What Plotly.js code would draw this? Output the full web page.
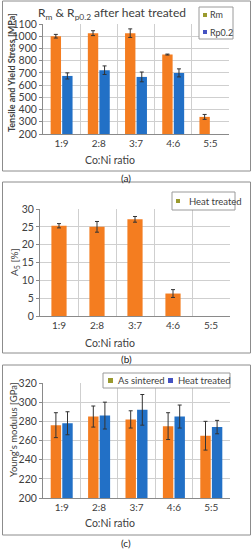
<!DOCTYPE html>
<html><head><meta charset="utf-8">
<script src="https://cdn.plot.ly/plotly-3.0.1.min.js"></script>
<style>html,body{margin:0;padding:0;background:#fff}#chart{width:252px;height:550px}</style>
</head><body><div id="chart"></div><script>
// ---- data ----
const ratios = ['1:9', '2:8', '3:7', '4:6', '5:5'];
const rmValues = [1000, 1025, 1025, 850, 340];
const rmErrors = [15, 20, 35, 4, 20];
const rp02Values = [675, 722, 667, 700, null];
const rp02Errors = [25, 35, 40, 33, null];
const a5Values = [25.3, 25.0, 27.1, 6.3, null];
const a5Errors = [0.6, 1.5, 0.8, 1.1, null];
const sinteredE = [276, 285, 282, 275, 265];
const sinteredErr = [13, 11, 9, 14, 15];
const heatE = [278, 286, 292, 285, 274];
const heatErr = [12, 14, 16, 12, 7];
const legendA = ['Rm', 'Rp0.2'];
const legendB = ['Heat treated'];
const legendC = ['As sintered', 'Heat treated'];

// ---- styling ----
const FONT = 'Liberation Sans Narrow, Lato, Arial, sans-serif';
const TXT = '#404040';
const ORANGE = '#F47D20';
const BLUE = '#2270C6';
const OLIVE = '#9A9A2E';
const SWBLUE = '#4452C2';
const GRID = '#cfcfcf';
const AXIS = '#8a8a8a';
const W = 252, H = 550;
const px = x => x / W, py = y => 1 - y / H;

function err(arr) { return {type: 'data', array: arr, visible: true, color: '#333', thickness: 1, width: 2}; }

const traces = [
  {type: 'bar', x: ratios, y: rmValues, error_y: err(rmErrors), marker: {color: ORANGE}, xaxis: 'x', yaxis: 'y', showlegend: false, name: legendA[0]},
  {type: 'bar', x: ratios, y: rp02Values, error_y: err(rp02Errors), marker: {color: BLUE}, xaxis: 'x', yaxis: 'y', showlegend: false, name: legendA[1]},
  {type: 'bar', x: ratios, y: a5Values, error_y: err(a5Errors), marker: {color: ORANGE}, width: 0.4, xaxis: 'x2', yaxis: 'y2', showlegend: false, name: legendB[0]},
  {type: 'bar', x: ratios, y: sinteredE, error_y: err(sinteredErr), marker: {color: ORANGE}, xaxis: 'x3', yaxis: 'y3', showlegend: false, name: legendC[0]},
  {type: 'bar', x: ratios, y: heatE, error_y: err(heatErr), marker: {color: BLUE}, xaxis: 'x3', yaxis: 'y3', showlegend: false, name: legendC[1]}
];

function xax(l, r, anchor) {
  return {domain: [px(l), px(r)], anchor: anchor, type: 'category', tickson: 'boundaries',
    showgrid: true, gridcolor: GRID, gridwidth: 1, showline: true, linecolor: AXIS, linewidth: 1,
    ticks: '', tickfont: {family: FONT, size: 10, color: TXT}, fixedrange: true};
}
function yax(top, bot, range, dtick, anchor) {
  return {domain: [py(bot), py(top)], anchor: anchor, range: range, dtick: dtick,
    showgrid: true, gridcolor: GRID, gridwidth: 1, showline: true, linecolor: AXIS, linewidth: 1,
    ticks: 'outside', ticklen: 3, tickcolor: AXIS, zeroline: false,
    tickfont: {family: FONT, size: 10.5, color: TXT}, fixedrange: true};
}

const frameLine = {color: '#8c8c8c', width: 1};
const shapes = [
  {type: 'rect', xref: 'paper', yref: 'paper', x0: px(2.5), x1: px(250.5), y0: py(171), y1: py(1), line: frameLine},
  {type: 'rect', xref: 'paper', yref: 'paper', x0: px(2.5), x1: px(250.5), y0: py(353), y1: py(182), line: frameLine},
  {type: 'rect', xref: 'paper', yref: 'paper', x0: px(2.5), x1: px(250.5), y0: py(535), y1: py(365), line: frameLine},
  // legend boxes
  {type: 'rect', xref: 'paper', yref: 'paper', x0: px(199), x1: px(233), y0: py(39), y1: py(7), line: {color: '#9a9a9a', width: 1}, fillcolor: '#fff'},
  {type: 'rect', xref: 'paper', yref: 'paper', x0: px(172), x1: px(235), y0: py(210), y1: py(192), line: {color: '#9a9a9a', width: 1}, fillcolor: '#fff'},
  {type: 'rect', xref: 'paper', yref: 'paper', x0: px(103), x1: px(230), y0: py(388), y1: py(373), line: {color: '#9a9a9a', width: 1}, fillcolor: '#fff'},
  // swatches
  {type: 'rect', xref: 'paper', yref: 'paper', x0: px(203), x1: px(207), y0: py(17), y1: py(13), line: {width: 0}, fillcolor: OLIVE},
  {type: 'rect', xref: 'paper', yref: 'paper', x0: px(203), x1: px(207), y0: py(34), y1: py(30), line: {width: 0}, fillcolor: SWBLUE},
  {type: 'rect', xref: 'paper', yref: 'paper', x0: px(176), x1: px(180), y0: py(203), y1: py(199), line: {width: 0}, fillcolor: OLIVE},
  {type: 'rect', xref: 'paper', yref: 'paper', x0: px(108), x1: px(113), y0: py(383), y1: py(378), line: {width: 0}, fillcolor: OLIVE},
  {type: 'rect', xref: 'paper', yref: 'paper', x0: px(168), x1: px(173), y0: py(383), y1: py(378), line: {width: 0}, fillcolor: SWBLUE}
];

function ann(text, x, y, opts) {
  return Object.assign({xref: 'paper', yref: 'paper', x: px(x), y: py(y), text: text, showarrow: false,
    xanchor: 'center', yanchor: 'middle', font: {family: FONT, size: 10, color: TXT}}, opts || {});
}
const annotations = [
  ann('R<sub>m</sub> &amp; R<sub>p0.2</sub> after heat treated', 112, 13, {font: {family: FONT, size: 12, color: TXT}}),
  ann('<b>Tensile and Yield Stress [MPa]</b>', 12, 73, {textangle: -90, font: {family: FONT, size: 9, color: TXT}}),
  ann('Co:Ni ratio', 110, 160, {font: {family: FONT, size: 10.5, color: TXT}}),
  ann('(a)', 126, 178, {font: {family: FONT, size: 10, color: '#222'}}),
  ann(legendA[0], 208, 15, {xanchor: 'left', font: {family: FONT, size: 9, color: TXT}}),
  ann(legendA[1], 208, 32, {xanchor: 'left', font: {family: FONT, size: 9, color: TXT}}),

  ann('A<sub>5</sub> [%]', 14, 262, {textangle: -90, font: {family: FONT, size: 10, color: TXT}}),
  ann('Co:Ni ratio', 110, 343, {font: {family: FONT, size: 10.5, color: TXT}}),
  ann('(b)', 126, 359, {font: {family: FONT, size: 10, color: '#222'}}),
  ann(legendB[0], 187, 201, {xanchor: 'left', font: {family: FONT, size: 9.5, color: TXT}}),

  ann('Young\'s modulus [GPa]', 13, 430, {textangle: -90, font: {family: FONT, size: 9.5, color: TXT}}),
  ann('Co:Ni ratio', 110, 523, {font: {family: FONT, size: 10.5, color: TXT}}),
  ann('(c)', 126, 543, {font: {family: FONT, size: 10, color: '#222'}}),
  ann(legendC[0], 116, 380.5, {xanchor: 'left', font: {family: FONT, size: 9.5, color: TXT}}),
  ann(legendC[1], 176, 380.5, {xanchor: 'left', font: {family: FONT, size: 9.5, color: TXT}})
];

const layout = {
  width: W, height: H, margin: {l: 0, r: 0, t: 0, b: 0},
  paper_bgcolor: '#fff', plot_bgcolor: '#fff',
  barmode: 'group', bargap: 0.38, bargroupgap: 0.1, showlegend: false,
  xaxis: xax(43, 229, 'y'), yaxis: yax(24, 134, [200, 1100], 100, 'x'),
  xaxis2: xax(40, 230, 'y2'), yaxis2: yax(209, 316, [0, 30], 5, 'x2'),
  xaxis3: xax(43, 230, 'y3'), yaxis3: yax(383, 498, [200, 320], 20, 'x3'),
  shapes: shapes, annotations: annotations
};

Plotly.newPlot('chart', traces, layout, {displayModeBar: false, staticPlot: true});
</script></body></html>
